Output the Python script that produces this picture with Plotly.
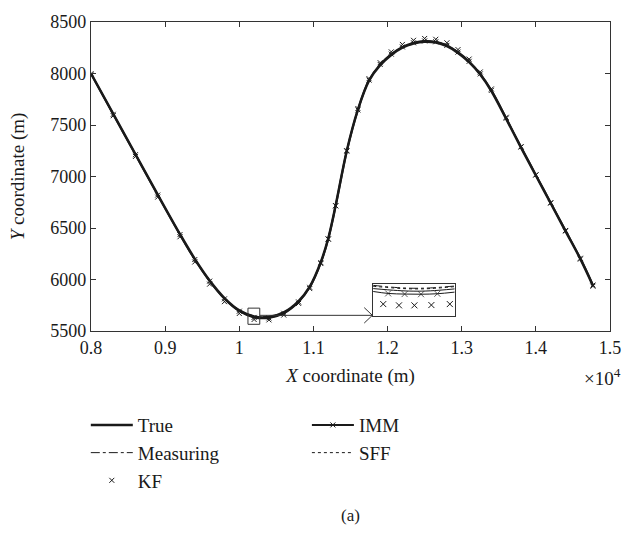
import plotly.graph_objects as go

# ---------------- data ----------------
track_x = [8000, 8300, 8600, 8900, 9200, 9400, 9600, 9800, 10000, 10200, 10400, 10600,
           10800, 10950, 11100, 11200, 11300, 11450, 11600, 11750, 11900, 12050, 12200,
           12350, 12500, 12650, 12800, 12950, 13100, 13250, 13400, 13600, 13800, 14000,
           14200, 14400, 14600, 14770]
true_y = [8000, 7608, 7216, 6824, 6440, 6200, 5990, 5820, 5700, 5640, 5635, 5680, 5790,
          5930, 6170, 6400, 6720, 7250, 7650, 7930, 8080, 8180, 8250, 8290, 8308, 8300,
          8265, 8200, 8110, 7990, 7830, 7560, 7280, 7010, 6740, 6470, 6200, 5940]
meas_y = [8005, 7600, 7222, 6818, 6446, 6195, 5996, 5814, 5706, 5646, 5641, 5686, 5784,
          5936, 6163, 6406, 6714, 7256, 7644, 7936, 8086, 8186, 8256, 8296, 8314, 8306,
          8271, 8194, 8116, 7984, 7836, 7554, 7286, 7004, 6746, 6464, 6206, 5934]
kf_y = [7985, 7590, 7195, 6800, 6415, 6170, 5955, 5785, 5670, 5612, 5608, 5655, 5768,
        5912, 6155, 6392, 6716, 7252, 7660, 7950, 8105, 8210, 8282, 8322, 8340, 8332,
        8298, 8232, 8140, 8015, 7850, 7575, 7290, 7015, 6742, 6470, 6198, 5935]
imm_y = [7998, 7604, 7212, 6820, 6436, 6194, 5984, 5812, 5692, 5632, 5627, 5672, 5782,
         5924, 6164, 6394, 6716, 7246, 7646, 7936, 8088, 8188, 8258, 8298, 8316, 8308,
         8273, 8208, 8118, 7996, 7836, 7566, 7286, 7016, 6746, 6476, 6206, 5946]
sff_y = [8002, 7610, 7218, 6826, 6442, 6203, 5993, 5823, 5703, 5643, 5638, 5683, 5793,
         5933, 6173, 6403, 6722, 7252, 7652, 7933, 8083, 8183, 8253, 8293, 8311, 8303,
         8268, 8203, 8113, 7993, 7833, 7563, 7283, 7013, 6743, 6473, 6203, 5943]

# zoomed inset (local units 0..10)
inset_line_x = [0, 3, 5, 7, 10]
inset_meas_y = [9.6, 8.9, 8.7, 8.8, 9.4]
inset_sff_y = [9.3, 8.7, 8.5, 8.6, 9.2]
inset_true_y = [8.6, 8.0, 7.8, 7.9, 8.5]
inset_imm_x = [0, 1.84, 3.86, 5.87, 7.87, 10]
inset_imm_y = [7.7, 7.1, 6.9, 6.85, 7.0, 7.5]
inset_kf_x = [1.24, 3.17, 5.06, 7.14, 9.4]
inset_kf_y = [3.8, 3.4, 3.4, 3.5, 3.8]

x_tickvals = [8000, 9000, 10000, 11000, 12000, 13000, 14000, 15000]
x_ticktext = ["0.8", "0.9", "1", "1.1", "1.2", "1.3", "1.4", "1.5"]
y_tickvals = [5500, 6000, 6500, 7000, 7500, 8000, 8500]

zoom_box = dict(x0=10117, x1=10276, y0=5565, y1=5722)
arrow_y = 5652
arrow_end_x = 11795

FONT = "Liberation Serif"
BLACK = "#1a1a1a"

fig = go.Figure()

# main traces
fig.add_trace(go.Scatter(x=track_x, y=meas_y, mode="lines", name="Measuring",
                         line=dict(color=BLACK, width=1, dash="dashdot", shape="spline"),
                         legend="legend", legendrank=2))
fig.add_trace(go.Scatter(x=track_x, y=sff_y, mode="lines", name="SFF",
                         line=dict(color=BLACK, width=1, dash="dot", shape="spline"),
                         legend="legend2", legendrank=2))
fig.add_trace(go.Scatter(x=track_x, y=imm_y, mode="lines+markers", name="IMM",
                         line=dict(color=BLACK, width=2, shape="spline"),
                         marker=dict(symbol="x-thin", size=5, line=dict(color=BLACK, width=1)),
                         legend="legend2", legendrank=1))
fig.add_trace(go.Scatter(x=track_x, y=true_y, mode="lines", name="True",
                         line=dict(color=BLACK, width=2.5, shape="spline"),
                         legend="legend", legendrank=1))
fig.add_trace(go.Scatter(x=track_x, y=kf_y, mode="markers", name="KF",
                         marker=dict(symbol="x-thin", size=5, line=dict(color=BLACK, width=1)),
                         legend="legend", legendrank=3))

# inset traces
fig.add_trace(go.Scatter(x=inset_line_x, y=inset_meas_y, mode="lines", xaxis="x2", yaxis="y2",
                         line=dict(color=BLACK, width=1, dash="dashdot", shape="spline"),
                         showlegend=False))
fig.add_trace(go.Scatter(x=inset_line_x, y=inset_sff_y, mode="lines", xaxis="x2", yaxis="y2",
                         line=dict(color=BLACK, width=1, dash="dot", shape="spline"),
                         showlegend=False))
fig.add_trace(go.Scatter(x=inset_line_x, y=inset_true_y, mode="lines", xaxis="x2", yaxis="y2",
                         line=dict(color=BLACK, width=1, shape="spline"),
                         showlegend=False))
fig.add_trace(go.Scatter(x=inset_imm_x, y=inset_imm_y, mode="lines+markers", xaxis="x2", yaxis="y2",
                         line=dict(color=BLACK, width=1, shape="spline"),
                         marker=dict(symbol="x-thin", size=[0, 6, 6, 6, 6, 0],
                                     line=dict(color=BLACK, width=1)),
                         showlegend=False))
fig.add_trace(go.Scatter(x=inset_kf_x, y=inset_kf_y, mode="markers", xaxis="x2", yaxis="y2",
                         marker=dict(symbol="x-thin", size=6, line=dict(color=BLACK, width=1)),
                         showlegend=False))

axis_common = dict(showline=True, linecolor="#333333", linewidth=1.2, mirror="ticks",
                   ticks="inside", ticklen=5, tickcolor="#333333", showgrid=False,
                   zeroline=False, tickfont=dict(family=FONT, size=18, color=BLACK))

fig.update_layout(
    width=633, height=533,
    margin=dict(l=91, r=14, t=15, b=202),
    paper_bgcolor="white", plot_bgcolor="white",
    font=dict(family=FONT, size=18, color=BLACK),
    xaxis=dict(range=[8000, 15000], tickvals=x_tickvals, ticktext=x_ticktext,
               title=dict(text="<i>X</i> coordinate (m)", standoff=11,
                          font=dict(family=FONT, size=19, color=BLACK)),
               **axis_common),
    yaxis=dict(range=[5500, 8500], tickvals=y_tickvals,
               title=dict(text="<i>Y</i> coordinate (m)", standoff=20,
                          font=dict(family=FONT, size=19, color=BLACK)),
               **axis_common),
    xaxis2=dict(domain=[0.5436, 0.7008], anchor="y2", range=[0, 10], showline=True,
                mirror=True, linecolor="#333333", linewidth=1, showticklabels=False,
                ticks="", showgrid=False, zeroline=False),
    yaxis2=dict(domain=[0.0475, 0.1519], anchor="x2", range=[0, 10], showline=True,
                mirror=True, linecolor="#333333", linewidth=1, showticklabels=False,
                ticks="", showgrid=False, zeroline=False),
    legend=dict(x=-0.010, y=-0.243, xanchor="left", yanchor="top", bgcolor="rgba(0,0,0,0)",
                font=dict(family=FONT, size=19, color=BLACK), traceorder="normal",
                itemwidth=42),
    legend2=dict(x=0.416, y=-0.243, xanchor="left", yanchor="top", bgcolor="rgba(0,0,0,0)",
                 font=dict(family=FONT, size=19, color=BLACK), traceorder="normal",
                 itemwidth=42),
    showlegend=True,
)

# zoom box and arrow to inset
fig.add_shape(type="rect", xref="x", yref="y", line=dict(color="#333333", width=1),
              **zoom_box)
fig.add_shape(type="line", xref="x", yref="y", x0=zoom_box["x1"], x1=arrow_end_x,
              y0=arrow_y, y1=arrow_y, line=dict(color="#333333", width=1))
fig.add_shape(type="path", xref="x", yref="y",
              path=f"M {arrow_end_x - 110} {arrow_y + 75} L {arrow_end_x} {arrow_y} L {arrow_end_x - 110} {arrow_y - 75}",
              line=dict(color="#333333", width=1))

fig.add_annotation(text="×10<sup>4</sup>", xref="paper", yref="paper", x=1.025, y=-0.148,
                   xanchor="right", yanchor="middle", showarrow=False,
                   font=dict(family=FONT, size=19, color=BLACK))
fig.add_annotation(text="(a)", xref="paper", yref="paper", x=0.5, y=-0.598,
                   xanchor="center", yanchor="middle", showarrow=False,
                   font=dict(family=FONT, size=17, color=BLACK))

fig.write_html("out.html", config={"displayModeBar": False},
               post_script="document.body.style.margin='0';document.body.style.padding='0';")
